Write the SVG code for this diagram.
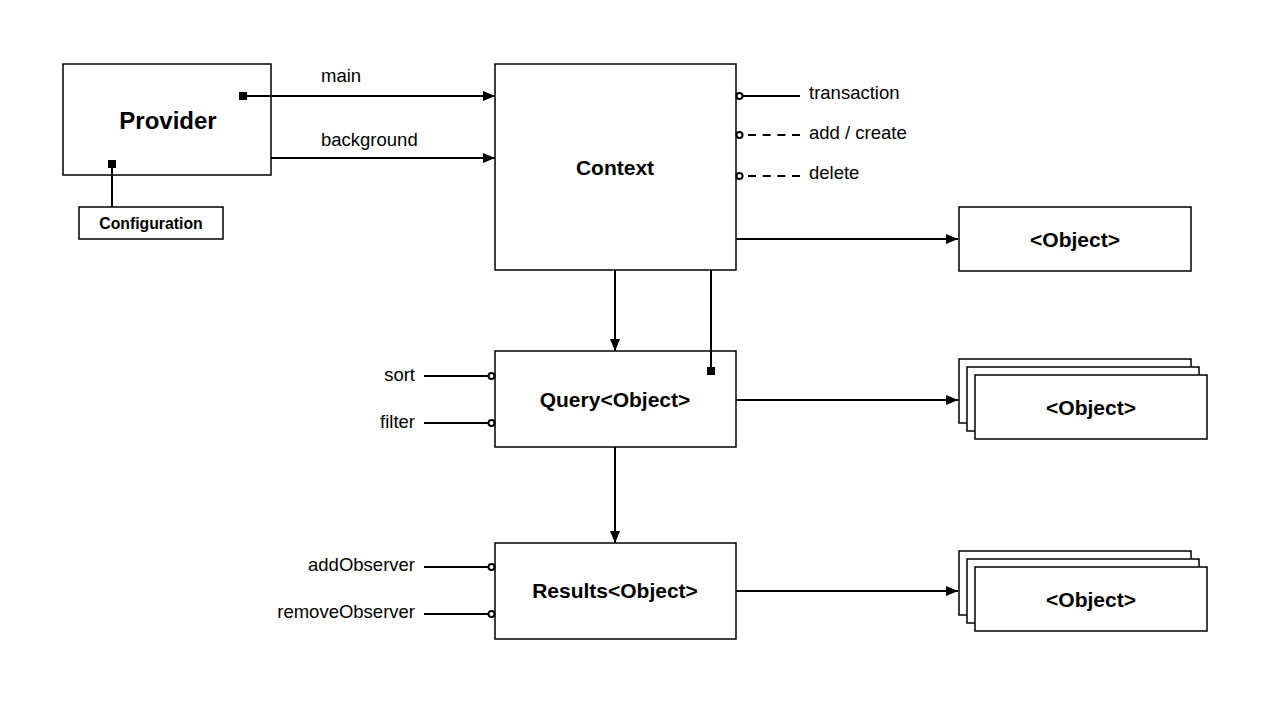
<svg xmlns="http://www.w3.org/2000/svg" width="1279" height="702" viewBox="0 0 1279 702">
<style>
.box{fill:#fff;stroke:#000;stroke-width:1.5}
.ln{fill:none;stroke:#000;stroke-width:2}
.dash{stroke-dasharray:8,6.67}
.t{font-family:"Liberation Sans",Arial,sans-serif;font-size:18.5px;fill:#000}
.b{font-family:"Liberation Sans",Arial,sans-serif;font-weight:bold;fill:#000;text-anchor:middle}
.circ{fill:#fff;stroke:#000;stroke-width:2}
</style>
<defs>
<marker id="arr" viewBox="0 0 12 10" refX="12" refY="5" markerWidth="12" markerHeight="10" markerUnits="userSpaceOnUse" orient="auto">
<path d="M0,0 L12,5 L0,10 Z" fill="#000"/>
</marker>
</defs>
<rect width="1279" height="702" fill="#fff"/>
<g id="provider">
<rect class="box" x="63" y="64" width="208" height="111"/>
<text class="b" x="168" y="129" font-size="24">Provider</text>
</g>
<g id="configuration">
<rect class="box" x="79" y="207" width="144" height="32"/>
<text class="b" x="151" y="229" font-size="15.8">Configuration</text>
</g>
<g id="context">
<rect class="box" x="495" y="64" width="241" height="206"/>
<text class="b" x="615" y="175" font-size="21">Context</text>
</g>
<g id="object1">
<rect class="box" x="959" y="207" width="232" height="64"/>
<text class="b" x="1075" y="247" font-size="21">&lt;Object&gt;</text>
</g>
<g id="query">
<rect class="box" x="495" y="351" width="241" height="96"/>
<text class="b" x="615" y="407" font-size="21">Query&lt;Object&gt;</text>
</g>
<g id="objects2">
<rect class="box" x="959" y="359" width="232" height="64"/>
<rect class="box" x="967" y="367" width="232" height="64"/>
<rect class="box" x="975" y="375" width="232" height="64"/>
<text class="b" x="1091" y="415" font-size="21">&lt;Object&gt;</text>
</g>
<g id="results">
<rect class="box" x="495" y="543" width="241" height="96"/>
<text class="b" x="615" y="598" font-size="21">Results&lt;Object&gt;</text>
</g>
<g id="objects3">
<rect class="box" x="959" y="551" width="232" height="64"/>
<rect class="box" x="967" y="559" width="232" height="64"/>
<rect class="box" x="975" y="567" width="232" height="64"/>
<text class="b" x="1091" y="607" font-size="21">&lt;Object&gt;</text>
</g>
<g id="connectors">
<line class="ln" x1="243" y1="96" x2="495" y2="96" marker-end="url(#arr)"/>
<line class="ln" x1="271" y1="158" x2="495" y2="158" marker-end="url(#arr)"/>
<line class="ln" x1="112" y1="164" x2="112" y2="207"/>
<rect x="108" y="160" width="8" height="8" fill="#000"/>
<rect x="239" y="92" width="8" height="8" fill="#000"/>
<line class="ln" x1="736" y1="239" x2="958" y2="239" marker-end="url(#arr)"/>
<line class="ln" x1="615" y1="270" x2="615" y2="351" marker-end="url(#arr)"/>
<line class="ln" x1="711" y1="270" x2="711" y2="371"/>
<rect x="707" y="367" width="8" height="8" fill="#000"/>
<line class="ln" x1="736" y1="400" x2="958" y2="400" marker-end="url(#arr)"/>
<line class="ln" x1="615" y1="447" x2="615" y2="543" marker-end="url(#arr)"/>
<line class="ln" x1="736" y1="591" x2="958" y2="591" marker-end="url(#arr)"/>
<line class="ln" x1="742" y1="96" x2="800" y2="96"/>
<line class="ln dash" x1="748" y1="135" x2="800" y2="135"/>
<line class="ln dash" x1="748" y1="176" x2="800" y2="176"/>
<circle class="circ" cx="739.5" cy="96" r="3"/>
<circle class="circ" cx="739.5" cy="135" r="3"/>
<circle class="circ" cx="739.5" cy="176" r="3"/>
<line class="ln" x1="424" y1="376" x2="489" y2="376"/>
<line class="ln" x1="424" y1="423" x2="489" y2="423"/>
<line class="ln" x1="424" y1="567" x2="489" y2="567"/>
<line class="ln" x1="424" y1="614" x2="489" y2="614"/>
<circle class="circ" cx="491.5" cy="376" r="3"/>
<circle class="circ" cx="491.5" cy="423" r="3"/>
<circle class="circ" cx="491.5" cy="567" r="3"/>
<circle class="circ" cx="491.5" cy="614" r="3"/>
<text class="t" x="321" y="82">main</text>
<text class="t" x="321" y="146">background</text>
<text class="t" x="809" y="99">transaction</text>
<text class="t" x="809" y="139">add / create</text>
<text class="t" x="809" y="179">delete</text>
<text class="t" x="415" y="381" text-anchor="end">sort</text>
<text class="t" x="415" y="428" text-anchor="end">filter</text>
<text class="t" x="415" y="571" text-anchor="end">addObserver</text>
<text class="t" x="415" y="618" text-anchor="end">removeObserver</text>
</g>
</svg>
